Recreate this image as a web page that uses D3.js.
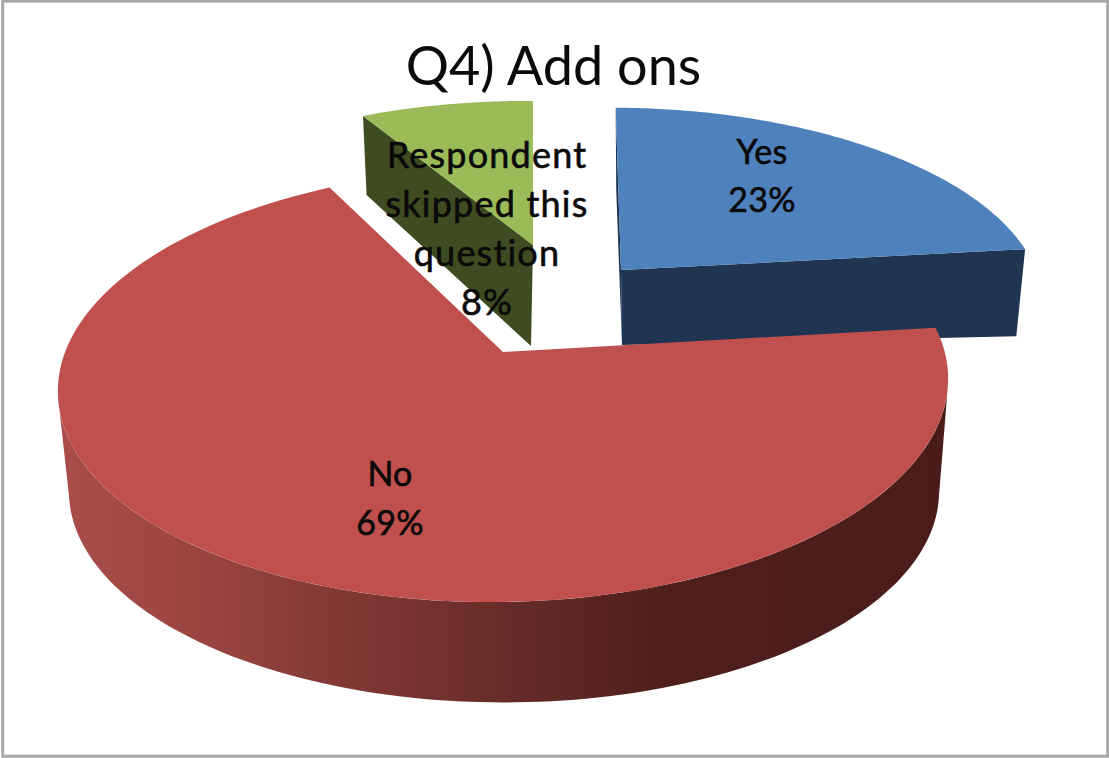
<!DOCTYPE html>
<html>
<head>
<meta charset="utf-8">
<title>Q4) Add ons</title>
<script src="https://cdn.jsdelivr.net/npm/d3@7/dist/d3.min.js"></script>
<style>
  html, body { margin: 0; padding: 0; background: #fff; }
  svg { display: block; }
  text { font-family: Lato, "Open Sans", sans-serif; fill: #0a0a0a; }
</style>
</head>
<body>
<svg id="chart" width="1109" height="758"></svg>
<script>
// Survey shares, in percent
const categories = ["Yes", "No", "Respondent skipped this question"];
const shares = [23, 69, 8];
const labelLines = [["Yes", "23%"], ["No", "69%"], ["Respondent", "skipped this", "question", "8%"]];
const chartTitle = "Q4) Add ons";

const topColors = ["#4f81bd", "#c0504d", "#9bbb59"];
const wallColors = ["#1f3552", null, "#3f4c21"];

const rotation = 0.7 * Math.PI / 180;
const foreshorten = 0.152; // perspective strength of the tilted disc

// Each slice sits on its own exploded plane: a top face and a bottom face.
const faces = [
  { top: { ox: 621, oy: 270, r: 415, ry: 187, sx: -0.06, sy: 0 },
    bottom: { ox: 622, oy: 345, r: 405, ry: 178, sx: -0.065, sy: 0.028 } },
  { turn: 1.5, top: { ox: 503, oy: 352, r: 440, ry: 212, sx: 0, sy: -0.014 },
    bottom: { ox: 504, oy: 459.5, r: 430, ry: 206, sx: 0, sy: 0 } },
  { top: { ox: 533, oy: 245, r: 400, ry: 166, sx: -0.03, sy: 0 },
    bottom: { ox: 531, oy: 346, r: 385, ry: 194, sx: -0.03, sy: 0 } }
];

const labelAnchors = [[762, 164], [390, 486], [487, 168]];
const labelLeading = [48, 49, 49];
const labelSizes = [34, 34, 36];
const labelTracking = [0.2, 0.2, 1.2];

const svg = d3.select("#chart");

// Perspective projection of a polar position on a slice plane
function project(face, angle, radius = 1) {
  const u = Math.sin(angle) * radius;
  const v = Math.cos(angle) * radius;
  const w = 1 + foreshorten * v;
  const px = face.r * u / w;
  const py = face.ry * v / w;
  return [face.ox + px + face.sx * py, face.oy - py + face.sy * px];
}

const arcPoints = (face, a0, a1) =>
  d3.range(0, 121).map(i => project(face, a0 + (a1 - a0) * i / 120));

const outline = d3.line().curve(d3.curveLinear);
const closed = pts => outline(pts) + "Z";

const slices = d3.pie().sort(null).value(d => d)
  .startAngle(rotation).endAngle(rotation + 2 * Math.PI)(shares);

// Side wall of the large slice darkens from left to right
const defs = svg.append("defs");
const wallGradient = defs.append("linearGradient")
  .attr("id", "noWall").attr("gradientUnits", "userSpaceOnUse")
  .attr("x1", 60).attr("x2", 950).attr("y1", 0).attr("y2", 0);
[[0, "#a94e4a"], [0.15, "#9b4541"], [0.3, "#843a36"], [0.5, "#672c29"], [0.68, "#4f1f1c"], [1, "#491c1a"]]
  .forEach(([o, c]) => wallGradient.append("stop").attr("offset", o).attr("stop-color", c));

svg.append("rect")
  .attr("x", 2.7).attr("y", 1.2).attr("width", 1105).attr("height", 755)
  .attr("fill", "#fff").attr("stroke", "#a8a8a8").attr("stroke-width", 3);

svg.append("text")
  .attr("x", 553.5).attr("y", 85).attr("text-anchor", "middle")
  .attr("font-size", 54).text(chartTitle);

const marks = svg.append("g");

function radialWall(face, angle, color) {
  marks.append("path")
    .attr("d", closed([
      [face.top.ox, face.top.oy], project(face.top, angle),
      project(face.bottom, angle), [face.bottom.ox, face.bottom.oy]
    ]))
    .attr("fill", color);
}

function topFace(face, s, color) {
  const turn = (face.turn || 0) * Math.PI / 180;
  const pts = [[face.top.ox, face.top.oy],
    ...arcPoints(face.top, s.startAngle + turn, s.endAngle + turn)];
  marks.append("path").attr("d", closed(pts)).attr("fill", color);
}

// Painter's order: far slice, then right slice, then the large front slice
const [yes, no, skipped] = slices;

radialWall(faces[2], skipped.startAngle, wallColors[2]);
topFace(faces[2], skipped, topColors[2]);

radialWall(faces[0], yes.startAngle, wallColors[0]);
radialWall(faces[0], yes.endAngle, wallColors[0]);
topFace(faces[0], yes, topColors[0]);

// Outer wall runs between the two silhouette tangents of the disc
const wallFrom = 100 * Math.PI / 180;
const wallTo = 260 * Math.PI / 180;
marks.append("path")
  .attr("d", closed([
    ...arcPoints(faces[1].top, wallFrom, wallTo),
    ...arcPoints(faces[1].bottom, wallFrom, wallTo).reverse()
  ]))
  .attr("fill", "url(#noWall)");
topFace(faces[1], no, topColors[1]);

const labels = svg.append("g").attr("text-anchor", "middle")
  .attr("stroke", "#0a0a0a").attr("stroke-width", 0.6);

labels.selectAll("text")
  .data(categories)
  .join("text")
  .attr("x", (d, i) => labelAnchors[i][0])
  .attr("y", (d, i) => labelAnchors[i][1])
  .attr("font-size", (d, i) => labelSizes[i])
  .attr("letter-spacing", (d, i) => labelTracking[i])
  .each(function (d, i) {
    d3.select(this).selectAll("tspan")
      .data(labelLines[i])
      .join("tspan")
      .attr("x", labelAnchors[i][0])
      .attr("dy", (line, j) => j === 0 ? 0 : labelLeading[i])
      .text(line => line);
  });
</script>
</body>
</html>
